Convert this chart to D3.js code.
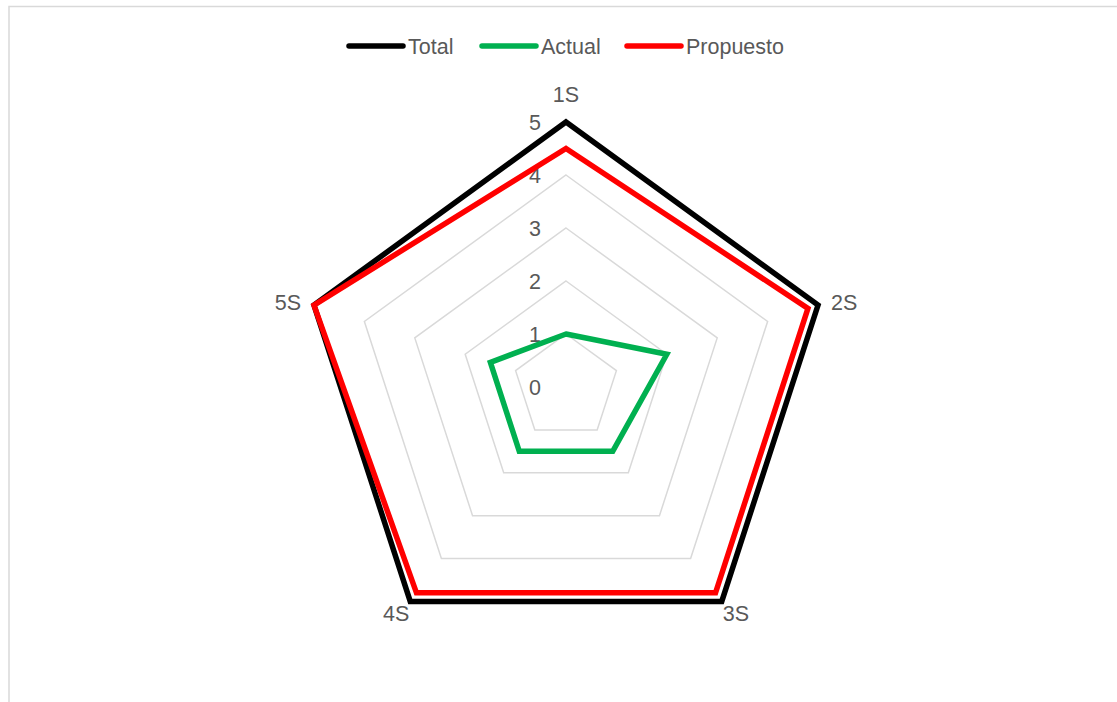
<!DOCTYPE html>
<html>
<head>
<meta charset="utf-8">
<script src="https://cdn.jsdelivr.net/npm/d3@7"></script>
<style>
  body { margin: 0; background: #fff; }
  text { font-family: "Liberation Sans", Arial, sans-serif; fill: #595959; }
</style>
</head>
<body>
<div id="radar"></div>
<script>
// categories (one per spoke) and series values
const categories = ["1S", "2S", "3S", "4S", "5S"];
const seriesNames = ["Total", "Actual", "Propuesto"];
const seriesColors = ["#000000", "#00b050", "#ff0000"];
const total = [5, 5, 5, 5, 5];
const actual = [1, 2, 1.5, 1.5, 1.5];
const propuesto = [4.5, 4.8, 4.8, 4.8, 5];
const ticks = [0, 1, 2, 3, 4, 5];

const width = 1117, height = 702;
const cx = 566, cy = 387, maxR = 265;

let svg = d3.select("#radar").append("svg")
  .attr("width", width)
  .attr("height", height);

// chart area border (only top and left edges visible in the picture)
svg.append("path")
  .attr("d", "M9,702 V6.5 H1117")
  .attr("fill", "none")
  .attr("stroke", "#d9d9d9")
  .attr("stroke-width", 1.5);

let rScale = d3.scaleLinear().domain([0, 5]).range([0, maxR]);
let angle = d3.scaleLinear().domain([0, categories.length]).range([0, 2 * Math.PI]);

let g = svg.append("g").attr("transform", "translate(" + cx + "," + cy + ")");

// grid rings
let ringLine = d3.lineRadial()
  .angle(function(d, i){ return angle(i); })
  .radius(function(d){ return rScale(d); })
  .curve(d3.curveLinearClosed);

g.selectAll(".ring")
  .data(ticks.filter(function(t){ return t > 0; }))
  .enter().append("path")
  .attr("class", "ring")
  .attr("d", function(t){ return ringLine(categories.map(function(){ return t; })); })
  .attr("fill", "none")
  .attr("stroke", "#d9d9d9")
  .attr("stroke-width", 1.5);

// tick labels up the 1S spoke
g.selectAll(".tick")
  .data(ticks)
  .enter().append("text")
  .attr("class", "tick")
  .attr("x", -25)
  .attr("y", function(t){ return -rScale(t); })
  .attr("text-anchor", "end")
  .attr("dy", "0.36em")
  .style("font-size", "21.5px")
  .text(function(t){ return t; });

// series lines
let seriesData = [total, actual, propuesto];
let line = d3.lineRadial()
  .angle(function(d, i){ return angle(i); })
  .radius(function(d){ return rScale(d); })
  .curve(d3.curveLinearClosed);

g.selectAll(".series")
  .data(seriesData)
  .enter().append("path")
  .attr("class", "series")
  .attr("d", function(d){ return line(d); })
  .attr("fill", "none")
  .attr("stroke", function(d, i){ return seriesColors[i]; })
  .attr("stroke-width", 5.5)
  .attr("stroke-linejoin", "miter");

// category labels
let labelR = rScale(5) + 22;
g.selectAll(".cat")
  .data(categories)
  .enter().append("text")
  .attr("class", "cat")
  .attr("x", function(d, i){ return Math.sin(angle(i)) * labelR; })
  .attr("y", function(d, i){ return -Math.cos(angle(i)) * labelR; })
  .attr("text-anchor", function(d, i){
    let s = Math.sin(angle(i));
    if (Math.abs(s) < 0.01) return "middle";
    return s > 0 ? "start" : "end";
  })
  .attr("dx", function(d, i){
    let s = Math.sin(angle(i));
    if (Math.abs(s) < 0.01) return 0;
    return Math.cos(angle(i)) < 0 ? (s > 0 ? -12 : 12) : (s > 0 ? -8 : 8);
  })
  .attr("dy", function(d, i){
    if (i === 0) return "0.07em";
    return Math.cos(angle(i)) < 0 ? "0.1em" : "0.55em";
  })
  .style("font-size", "21.5px")
  .text(function(d){ return d; });

// legend
let legendX = [349, 482, 627];
let legend = svg.selectAll(".legend")
  .data(seriesNames)
  .enter().append("g")
  .attr("class", "legend")
  .attr("transform", function(d, i){ return "translate(" + legendX[i] + ",46)"; });

legend.append("line")
  .attr("x1", 0).attr("x2", 54)
  .attr("y1", 0).attr("y2", 0)
  .attr("stroke", function(d, i){ return seriesColors[i]; })
  .attr("stroke-width", 5.5)
  .attr("stroke-linecap", "round");

legend.append("text")
  .attr("x", 59)
  .attr("dy", "0.36em")
  .style("font-size", "21.5px")
  .text(function(d){ return d; });
</script>
</body>
</html>
